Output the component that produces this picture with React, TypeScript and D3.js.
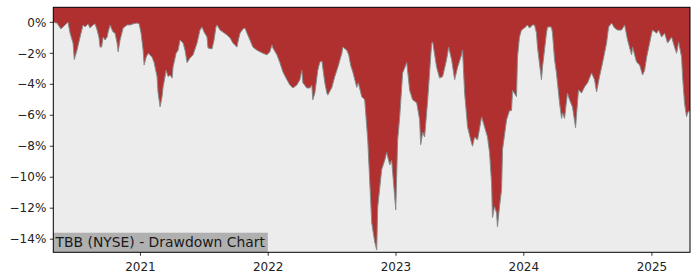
import React from "react";
import * as d3 from "d3";

// Decimal-year timestamps and drawdown values (%)
const years: number[] = [
  2020.320, 2020.349, 2020.380, 2020.396, 2020.427, 2020.435, 2020.451, 2020.474, 2020.484, 2020.505,
  2020.529, 2020.552, 2020.568, 2020.591, 2020.607, 2020.630, 2020.646, 2020.662, 2020.677, 2020.685,
  2020.697, 2020.709, 2020.724, 2020.740, 2020.748, 2020.763, 2020.779, 2020.787, 2020.802, 2020.818,
  2020.826, 2020.841, 2020.865, 2020.896, 2020.920, 2020.943, 2020.974, 2020.990, 2021.005, 2021.021,
  2021.029, 2021.045, 2021.060, 2021.091, 2021.107, 2021.130, 2021.138, 2021.154, 2021.169, 2021.177,
  2021.201, 2021.216, 2021.232, 2021.248, 2021.255, 2021.279, 2021.295, 2021.310, 2021.334, 2021.349,
  2021.365, 2021.388, 2021.412, 2021.443, 2021.466, 2021.482, 2021.498, 2021.521, 2021.529, 2021.560,
  2021.576, 2021.591, 2021.599, 2021.623, 2021.646, 2021.677, 2021.701, 2021.724, 2021.755, 2021.763,
  2021.779, 2021.802, 2021.818, 2021.834, 2021.857, 2021.880, 2021.912, 2021.935, 2021.959, 2021.990,
  2022.013, 2022.029, 2022.037, 2022.068, 2022.091, 2022.115, 2022.146, 2022.170, 2022.193, 2022.224,
  2022.248, 2022.263, 2022.271, 2022.302, 2022.326, 2022.341, 2022.349, 2022.365, 2022.388, 2022.404,
  2022.420, 2022.443, 2022.459, 2022.466, 2022.498, 2022.521, 2022.545, 2022.576, 2022.584, 2022.615,
  2022.630, 2022.646, 2022.662, 2022.693, 2022.705, 2022.732, 2022.755, 2022.779, 2022.810, 2022.834,
  2022.849, 2022.857, 2022.888, 2022.912, 2022.927, 2022.951, 2022.966, 2022.974, 2022.998, 2023.013,
  2023.029, 2023.052, 2023.084, 2023.107, 2023.130, 2023.162, 2023.185, 2023.193, 2023.209, 2023.224,
  2023.248, 2023.279, 2023.287, 2023.318, 2023.341, 2023.365, 2023.396, 2023.412, 2023.435, 2023.459,
  2023.482, 2023.513, 2023.521, 2023.537, 2023.560, 2023.591, 2023.599, 2023.615, 2023.638, 2023.670,
  2023.693, 2023.716, 2023.732, 2023.748, 2023.755, 2023.771, 2023.787, 2023.794, 2023.810, 2023.826,
  2023.834, 2023.865, 2023.888, 2023.904, 2023.912, 2023.943, 2023.951, 2023.966, 2023.982, 2024.005,
  2024.029, 2024.045, 2024.068, 2024.084, 2024.099, 2024.107, 2024.138, 2024.146, 2024.177, 2024.185,
  2024.216, 2024.224, 2024.240, 2024.255, 2024.279, 2024.295, 2024.302, 2024.318, 2024.341, 2024.357,
  2024.380, 2024.404, 2024.427, 2024.451, 2024.474, 2024.498, 2024.529, 2024.552, 2024.568, 2024.591,
  2024.615, 2024.646, 2024.662, 2024.685, 2024.709, 2024.732, 2024.763, 2024.787, 2024.810, 2024.841,
  2024.849, 2024.880, 2024.904, 2024.927, 2024.943, 2024.959, 2024.982, 2024.998, 2025.005, 2025.037,
  2025.052, 2025.076, 2025.099, 2025.123, 2025.154, 2025.177, 2025.193, 2025.209, 2025.232, 2025.240,
  2025.255, 2025.271, 2025.279, 2025.298,
];

const drawdown: number[] = [
  0, -0.05, -0.43, -0.3, -0.05, 0, -0.7, -1.34, -2.4, -1.79,
  -0.95, -0.17, -0.3, -0.1, -0.37, -0.17, -0.1, -0.5, -1.0, -1.6,
  -1.6, -0.95, -1.14, -0.95, -0.63, -0.17, -0.5, -0.63, -0.7, -1.34,
  -1.9, -1.14, -0.37, -0.17, -0.17, -0.1, -0.05, -0.1, -0.7, -1.8,
  -2.75, -2.24, -2.0, -2.24, -2.6, -3.5, -4.55, -5.46, -4.8, -4.2,
  -3.1, -3.5, -3.4, -3.6, -2.9, -2.0, -1.8, -1.14, -1.34, -1.8,
  -2.6, -2.3, -2.1, -1.34, -0.5, -0.3, -0.63, -0.95, -1.66, -1.72,
  -1.14, -0.3, -0.17, -0.5, -0.63, -0.82, -1.0, -1.34, -1.6, -1.27,
  -0.7, -0.43, -0.37, -0.7, -1.14, -1.6, -1.8, -1.9, -2.0, -2.1,
  -1.9, -1.46, -1.66, -2.1, -2.6, -3.2, -3.7, -4.05, -4.24, -4.05,
  -3.7, -3.1, -3.9, -4.24, -4.24, -4.05, -5.0, -4.56, -3.1, -2.56,
  -2.5, -3.9, -4.56, -4.7, -4.2, -3.5, -2.9, -2.0, -1.6, -1.8,
  -2.1, -2.8, -3.2, -4.2, -3.9, -4.8, -5.0, -7.6, -12.95, -14.2,
  -14.7, -11.9, -9.5, -8.9, -8.4, -9.2, -8.9, -9.7, -12.1, -7.6,
  -6.1, -3.27, -2.6, -4.4, -5.0, -5.2, -6.3, -7.9, -7.1, -7.4,
  -5.0, -1.34, -1.27, -2.9, -3.6, -3.5, -2.4, -1.6, -2.4, -3.7,
  -2.9, -2.1, -1.8, -4.56, -6.75, -7.8, -8.0, -7.4, -7.6, -6.1,
  -6.75, -7.4, -8.4, -10.4, -12.6, -11.9, -12.3, -13.2, -11.9, -10.8,
  -8.2, -6.3, -5.7, -5.7, -4.4, -4.8, -2.24, -0.95, -0.5, -0.37,
  -0.17, -0.37, -0.17, -0.17, -0.7, -1.6, -3.7, -2.9, -0.7, -0.3,
  -0.3, -0.7, -2.4, -3.27, -5.2, -6.2, -5.85, -6.2, -4.56, -5.0,
  -5.46, -6.8, -4.37, -4.56, -4.17, -3.9, -3.27, -3.7, -4.5, -3.5,
  -2.6, -1.34, -0.3, -0.05, -0.37, -0.5, -0.5, -0.17, -1.14, -2.1,
  -1.6, -2.56, -2.75, -3.4, -3.1, -2.24, -1.34, -0.7, -0.5, -0.7,
  -0.5, -0.95, -0.7, -1.34, -0.95, -1.6, -2.0, -1.27, -2.24, -3.5,
  -5.2, -6.1, -5.85, -5.66,
];

const yTicks: number[] = [0, -2, -4, -6, -8, -10, -12, -14];
const xTickYears: number[] = [2021, 2022, 2023, 2024, 2025];
const title = "TBB (NYSE) - Drawdown Chart";

function yearToDate(y: number): Date {
  const yr = Math.floor(y);
  const start = Date.UTC(yr, 0, 1);
  const end = Date.UTC(yr + 1, 0, 1);
  return new Date(start + (y - yr) * (end - start));
}

export default function App() {
  const W = 700, H = 280;
  const left = 53.3, right = 690, top = 7.3, bottom = 252.3;
  const data = years.map((y, i) => ({ date: yearToDate(y), v: drawdown[i] }));

  const x = d3.scaleUtc()
    .domain([data[0].date, data[data.length - 1].date])
    .range([left, right]);
  const yMin = d3.min(drawdown)! * 1.01;
  const y = d3.scaleLinear().domain([yMin, 0.97]).range([bottom, top]);

  const area = d3.area<{ date: Date; v: number }>()
    .x(d => x(d.date))
    .y0(top)
    .y1(d => y(d.v));
  const line = d3.line<{ date: Date; v: number }>()
    .x(d => x(d.date))
    .y(d => y(d.v));

  const font = "DejaVu Sans, sans-serif";
  const fmt = (v: number) => (v < 0 ? "\u2212" + Math.abs(v) : String(v)) + "%";

  return (
    <svg width={W} height={H} style={{ position: "absolute", left: 0, top: 0 }}>
      <rect x={0} y={0} width={W} height={H} fill="#ffffff" />
      <rect x={left} y={top} width={right - left} height={bottom - top} fill="#ececec" />
      <path d={area(data)!} fill="#b03030" />
      <path d={line(data)!} fill="none" stroke="#8a8a8a" strokeWidth={1} />
      <rect x={left} y={232.7} width={214.5} height={19.3} fill="#b0b0b0" />
      <text x={55.5} y={246.8} fontFamily={font} fontSize={13.9} fill="#1a1a1a">{title}</text>
      <rect x={left} y={top} width={right - left} height={bottom - top} fill="none" stroke="#000" strokeWidth={1} />
      {yTicks.map(t => (
        <g key={t}>
          <line x1={left - 3.5} x2={left} y1={y(t)} y2={y(t)} stroke="#000" strokeWidth={0.8} />
          <text x={left - 7} y={y(t)} dy="0.35em" textAnchor="end" fontFamily={font} fontSize={12} fill="#222">{fmt(t)}</text>
        </g>
      ))}
      {xTickYears.map(t => {
        const px = x(new Date(Date.UTC(t, 0, 1)));
        return (
          <g key={t}>
            <line x1={px} x2={px} y1={bottom} y2={bottom + 3.5} stroke="#000" strokeWidth={0.8} />
            <text x={px} y={271} textAnchor="middle" fontFamily={font} fontSize={12} fill="#222">{t}</text>
          </g>
        );
      })}
    </svg>
  );
}
